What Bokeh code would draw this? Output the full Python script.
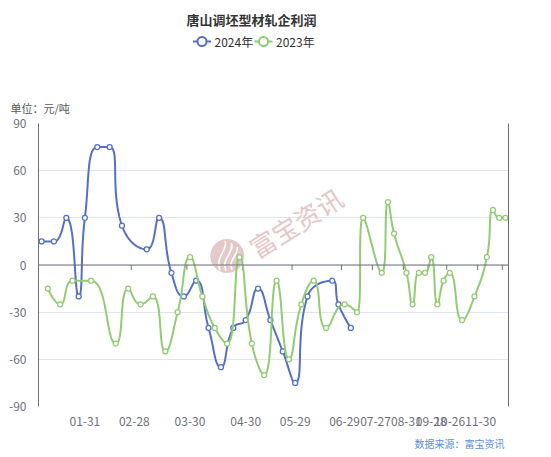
import math

from bokeh.core.properties import value
from bokeh.embed import file_html
from bokeh.layouts import column
from bokeh.models import (FixedTicker, Label, LinearAxis, Range1d, Span, Title)
from bokeh.plotting import figure
from bokeh.resources import INLINE

# ---- data -------------------------------------------------------------
N_CATS = 76  # number of date categories on the x axis

# category index of each labelled date (labels sit at the category centre)
tick_idx = [7, 15, 24, 33, 41, 49, 54, 59, 63, 66, 71, 75]
tick_labels = ["01-31", "02-28", "03-30", "04-30", "05-29", "06-29",
               "07-27", "08-31", "09-28", "10-26", "11-30", ""]

y_ticks = [-90, -60, -30, 0, 30, 60, 90]

series_names = ["2024年", "2023年"]

# 2024 profit (yuan/ton), by category index
idx_2024 = [0, 2, 4, 6, 7, 9, 11, 13, 17, 19, 21, 23, 25, 27, 29, 31, 33,
            35, 37, 39, 41, 43, 47, 48, 50]
val_2024 = [15, 15, 30, -20, 30, 75, 75, 25, 10, 30, -5, -20, -10, -40, -65,
            -40, -35, -15, -35, -55, -75, -20, -10, -25, -40]

# 2023 profit (yuan/ton), by category index
idx_2023 = [1, 3, 5, 8, 12, 14, 16, 18, 20, 22, 24, 26, 28, 30, 32, 34, 36,
            38, 40, 42, 44, 46, 49, 51, 52, 55, 56, 57, 59, 60, 61, 62, 63,
            64, 65, 66, 68, 70, 72, 73, 74, 75]
val_2023 = [-15, -25, -10, -10, -50, -15, -25, -20, -55, -30, 5, -20, -40,
            -50, 5, -50, -70, -10, -60, -25, -10, -40, -25, -30, 30, -5, 40,
            20, -5, -25, -5, -5, 5, -25, -10, -5, -35, -20, 5, 35, 30, 30]

C_2024 = "#5470C6"
C_2023 = "#91CC75"
AXIS_C = "#6E7079"
GRID_C = "#E0E6F1"
FONT = "Noto Sans CJK SC"

# ---- layout -----------------------------------------------------------
W = 551
HEAD_H = 90           # title and legend
MAIN_H = 340          # unit line, plotting area and its axes
FOOT_H = 27           # data source line
L, R, T, B = 38, 43, 32, 24
FRAME_W = W - L - R
FRAME_H = MAIN_H - T - B
FRAME_TOP = HEAD_H + T  # page y of the top of the plotting area
Y_MIN, Y_MAX = -90, 90


def px_x(px):
    """page x pixel -> data x"""
    return (px - L) * N_CATS / FRAME_W


def px_y(py):
    """page y pixel -> data y"""
    return Y_MAX - (py - FRAME_TOP) * (Y_MAX - Y_MIN) / FRAME_H


def smooth_line(xs, ys, smooth=0.5, samples=24):
    """Cubic smoothing with clamped control points (no overshoot),
    evaluated in screen-proportional space, returned in data space."""
    kx = FRAME_W / N_CATS
    ky = FRAME_H / (Y_MAX - Y_MIN)
    P = [(x * kx, y * ky) for x, y in zip(xs, ys)]
    n = len(P)
    ox, oy = [P[0][0]], [P[0][1]]

    def clamp(v, a, b):
        return max(min(v, max(a, b)), min(a, b))

    cp0 = P[0]
    for i in range(1, n):
        x, y = P[i]
        px, py = P[i - 1]
        nxt_cp0 = None
        if i == n - 1:
            cp1 = (x, y)
        else:
            nx, ny = P[i + 1]
            vx, vy = nx - px, ny - py
            l0 = math.hypot(x - px, y - py)
            l1 = math.hypot(nx - x, ny - y)
            r = l1 / (l0 + l1)
            n0x = clamp(x + vx * smooth * r, nx, x)
            n0y = clamp(y + vy * smooth * r, ny, y)
            vx, vy = n0x - x, n0y - y
            c1x = clamp(x - vx * l0 / l1, px, x)
            c1y = clamp(y - vy * l0 / l1, py, y)
            vx, vy = x - c1x, y - c1y
            nxt_cp0 = (x + vx * l1 / l0, y + vy * l1 / l0)
            cp1 = (c1x, c1y)
        for s in range(1, samples + 1):
            t = s / samples
            u = 1 - t
            ox.append(u**3 * px + 3 * u * u * t * cp0[0] + 3 * u * t * t * cp1[0] + t**3 * x)
            oy.append(u**3 * py + 3 * u * u * t * cp0[1] + 3 * u * t * t * cp1[1] + t**3 * y)
        cp0 = nxt_cp0
    return [v / kx for v in ox], [v / ky for v in oy]


def blank(height):
    """strip in page-x pixel coordinates (y downwards); its frame lines up
    with the plotting area of the main figure"""
    f = figure(width=W, height=height, x_range=Range1d(L, W - R),
               y_range=Range1d(height, 0), x_axis_type=None, y_axis_type=None,
               output_backend="svg", toolbar_location=None, min_border=0,
               min_border_left=L, min_border_right=R)
    f.grid.visible = False
    f.outline_line_color = None
    f.background_fill_color = "white"
    f.border_fill_color = "white"
    return f


# ---- header: title and legend ----------------------------------------
head = blank(HEAD_H)
head.text(x=[251], y=[19], text=["唐山调坯型材轧企利润"], text_align="center",
          text_baseline="middle", text_font=value(FONT), text_font_size="13px",
          text_font_style="bold", text_color="#333333")
leg_x = [192.5, 254]
leg_cols = [C_2024, C_2023]
head.segment(x0=leg_x, y0=[41, 41], x1=[x + 18 for x in leg_x], y1=[41, 41],
             line_color=leg_cols, line_width=2)
head.scatter(x=[x + 9 for x in leg_x], y=[41, 41], marker="circle", size=9,
             fill_color="white", line_color=leg_cols, line_width=2)
head.text(x=[x + 21.5 for x in leg_x], y=[41, 41], text=series_names,
          text_align="left", text_baseline="middle", text_font=value(FONT),
          text_font_size="12px", text_color="#333333")

# ---- main plot --------------------------------------------------------
p = figure(width=W, height=MAIN_H, x_range=Range1d(0, N_CATS),
           y_range=Range1d(Y_MIN, Y_MAX), output_backend="svg",
           toolbar_location=None, min_border_left=L, min_border_right=R,
           min_border_top=T, min_border_bottom=B)
p.outline_line_color = None
p.background_fill_color = "white"
p.border_fill_color = "white"

# unit line above the plotting area, pulled out to the page's left margin
p.add_layout(Title(text="单位：元/吨", align="left", offset=-(L - 10),
                   standoff=15, text_font=FONT, text_font_size="11px",
                   text_font_style="normal", text_color="#555555"), "above")

# grid
p.xgrid.visible = False
p.ygrid.ticker = FixedTicker(ticks=y_ticks)
p.ygrid.grid_line_color = GRID_C
p.ygrid.grid_line_width = 1

# y axis (left)
yax = p.yaxis[0]
yax.ticker = FixedTicker(ticks=y_ticks)
yax.major_label_overrides = {v: str(v) for v in y_ticks}
yax.axis_line_color = AXIS_C
yax.major_tick_line_color = None
yax.minor_tick_line_color = None
yax.major_label_standoff = 6
yax.major_label_text_font_size = "12px"
yax.major_label_text_color = AXIS_C
yax.major_label_text_font = FONT

# x axis labels (bottom)
xax = p.xaxis[0]
centres = [k + 0.5 for k in tick_idx]
xax.ticker = FixedTicker(ticks=centres)
xax.major_label_overrides = {c: lab for c, lab in zip(centres, tick_labels)}
xax.axis_line_color = None
xax.major_tick_line_color = None
xax.minor_tick_line_color = None
xax.major_label_standoff = 4
xax.major_label_text_font_size = "12px"
xax.major_label_text_color = AXIS_C
xax.major_label_text_font = FONT

# right frame line
p.add_layout(LinearAxis(ticker=FixedTicker(ticks=[]), axis_line_color=AXIS_C,
                        major_tick_line_color=None, minor_tick_line_color=None,
                        major_label_text_font_size="0px"), "right")

# watermark
cx, cy = 226.7, 255
p.scatter(x=[px_x(cx)], y=[px_y(cy)], size=34, marker="circle",
          fill_color="#DDBBBB", fill_alpha=0.8, line_color=None, level="underlay")
strokes = [((-7, 14), (-13, 2), (1, -6), (-2, -15)),
           ((-1, 15), (-7, 3), (8, -4), (4, -13)),
           ((5, 14), (0, 4), (12, -1), (10, -9))]
p.bezier(x0=[px_x(cx + s[0][0]) for s in strokes], y0=[px_y(cy + s[0][1]) for s in strokes],
         cx0=[px_x(cx + s[1][0]) for s in strokes], cy0=[px_y(cy + s[1][1]) for s in strokes],
         cx1=[px_x(cx + s[2][0]) for s in strokes], cy1=[px_y(cy + s[2][1]) for s in strokes],
         x1=[px_x(cx + s[3][0]) for s in strokes], y1=[px_y(cy + s[3][1]) for s in strokes],
         line_color="white", line_width=1.6, level="underlay")
p.add_layout(Label(x=px_x(295), y=px_y(221), text="富宝资讯", angle=0.56,
                   text_align="center", text_baseline="middle",
                   text_font=FONT, text_font_size="26px", text_color="#E6C6C6",
                   level="underlay"))

# zero line with its ticks
p.add_layout(Span(location=0, dimension="width", line_color=AXIS_C, line_width=1))
tick_len = 5 * (Y_MAX - Y_MIN) / FRAME_H
p.segment(x0=tick_idx, y0=[0] * len(tick_idx), x1=tick_idx,
          y1=[-tick_len] * len(tick_idx), line_color=AXIS_C, line_width=1)

# series
for idx, vals, col in ((idx_2024, val_2024, C_2024),
                       (idx_2023, val_2023, C_2023)):
    xs = [i + 0.5 for i in idx]
    lx, ly = smooth_line(xs, vals)
    p.line(lx, ly, line_color=col, line_width=2, line_join="round")
    p.scatter(x=xs, y=vals, marker="circle", size=5, fill_color="white",
              line_color=col, line_width=1.3)

# ---- footer: data source ---------------------------------------------
foot = blank(FOOT_H)
foot.text(x=[504], y=[13], text=["数据来源：富宝资讯"], text_align="right",
          text_baseline="middle", text_font=value(FONT), text_font_size="10px",
          text_color="#5B8FD6")

page = column(head, p, foot, spacing=0)

with open("out.html", "w") as f:
    f.write(file_html(page, INLINE))
